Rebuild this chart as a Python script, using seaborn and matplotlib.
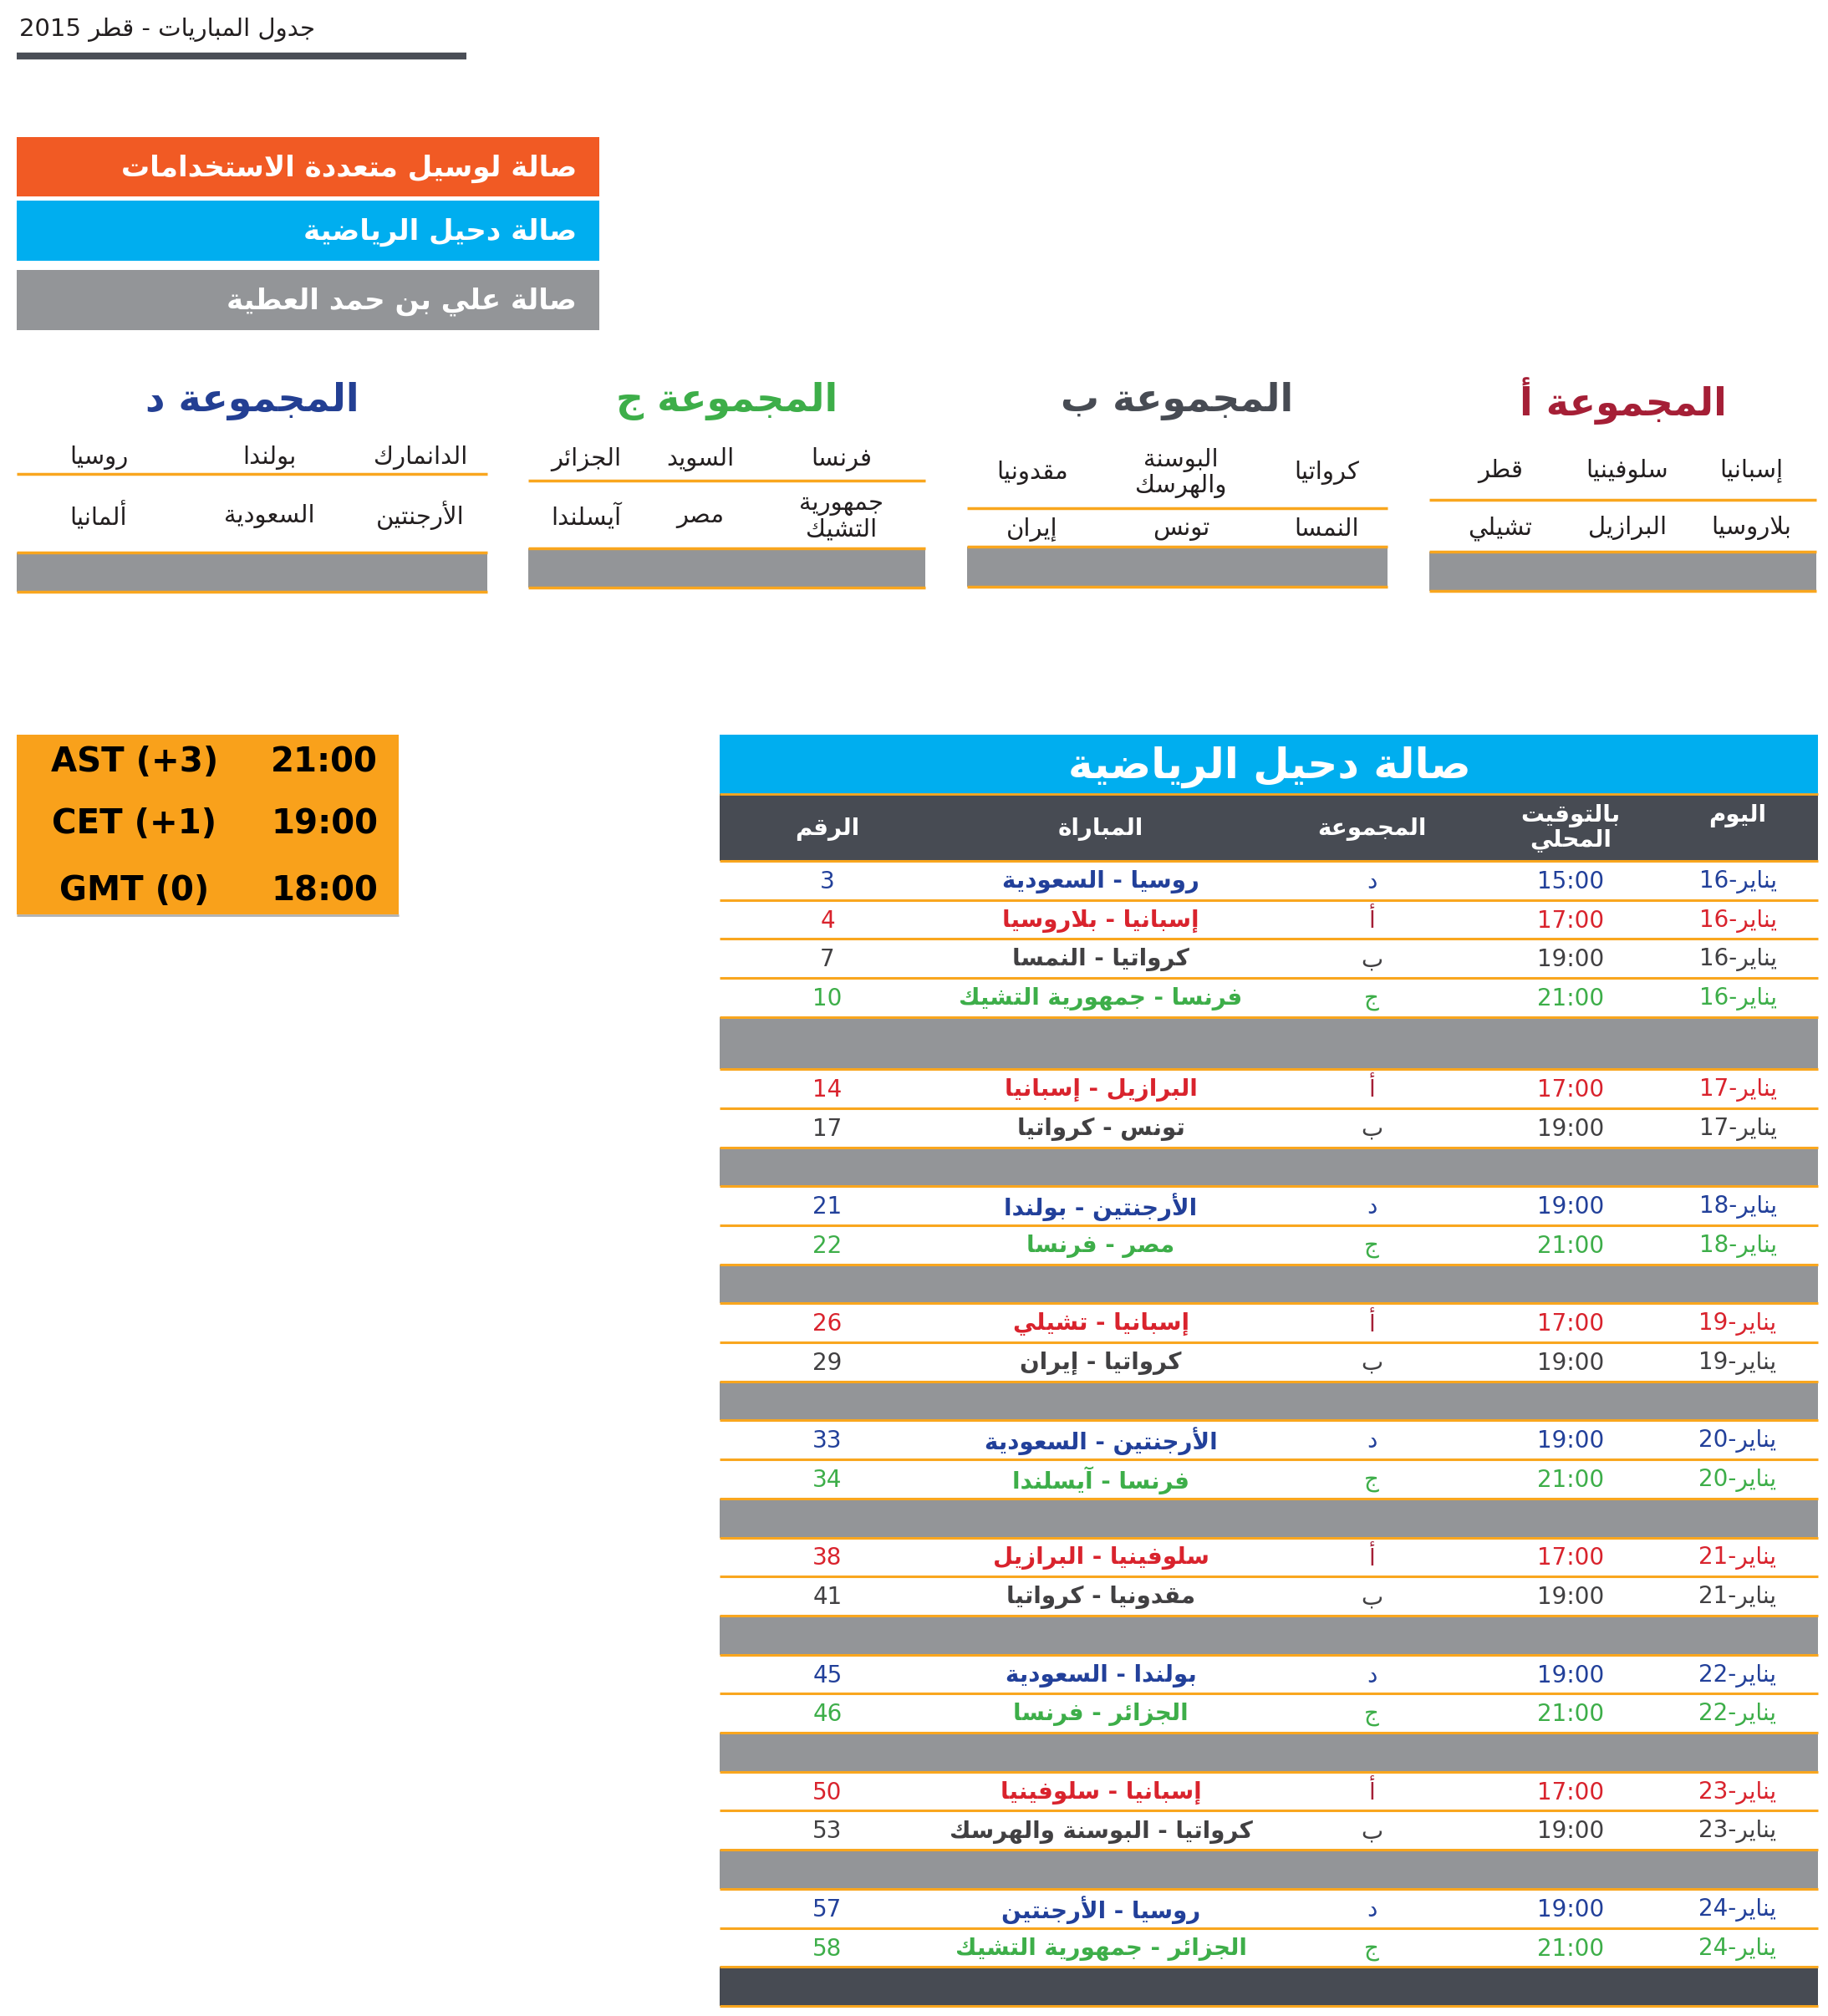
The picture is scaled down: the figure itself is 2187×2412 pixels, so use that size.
import re
import matplotlib
matplotlib.use("Agg")
import matplotlib.pyplot as plt
from matplotlib.colors import ListedColormap
from matplotlib.patches import Rectangle
import numpy as np
import seaborn as sns

# ---------------- data ----------------
page_title = "جدول المباريات - قطر 2015"

venues = ["صالة لوسيل متعددة الاستخدامات", "صالة دحيل الرياضية", "صالة علي بن حمد العطية"]
venue_colors = ["#F15A24", "#00AEEF", "#939598"]

group_letters = ["أ", "ب", "ج", "د"]
group_title_colors = ["#A51F36", "#474B53", "#3DAE49", "#233F93"]
group_row1 = [["إسبانيا", "سلوفينيا", "قطر"],
              ["كرواتيا", "البوسنة\nوالهرسك", "مقدونيا"],
              ["فرنسا", "السويد", "الجزائر"],
              ["الدانمارك", "بولندا", "روسيا"]]
group_row2 = [["بلاروسيا", "البرازيل", "تشيلي"],
              ["النمسا", "تونس", "إيران"],
              ["جمهورية\nالتشيك", "مصر", "آيسلندا"],
              ["الأرجنتين", "السعودية", "ألمانيا"]]

tz_names = ["AST (+3)", "CET (+1)", "GMT (0)"]
tz_times = ["21:00", "19:00", "18:00"]

hall_title = "صالة دحيل الرياضية"
col_headers = ["اليوم", "بالتوقيت\nالمحلي", "المجموعة", "المباراة", "الرقم"]
month = "يناير"
days = [16, 16, 16, 16, 17, 17, 18, 18, 19, 19, 20, 20, 21, 21, 22, 22, 23, 23, 24, 24]
times = ["15:00", "17:00", "19:00", "21:00", "17:00", "19:00", "19:00", "21:00",
         "17:00", "19:00", "19:00", "21:00", "17:00", "19:00", "19:00", "21:00",
         "17:00", "19:00", "19:00", "21:00"]
groups = ["د", "أ", "ب", "ج", "أ", "ب", "د", "ج", "أ", "ب",
          "د", "ج", "أ", "ب", "د", "ج", "أ", "ب", "د", "ج"]
matches = ["روسيا - السعودية", "إسبانيا - بلاروسيا", "كرواتيا - النمسا",
           "فرنسا - جمهورية التشيك", "البرازيل - إسبانيا", "تونس - كرواتيا",
           "الأرجنتين - بولندا", "مصر - فرنسا", "إسبانيا - تشيلي", "كرواتيا - إيران",
           "الأرجنتين - السعودية", "فرنسا - آيسلندا", "سلوفينيا - البرازيل",
           "مقدونيا - كرواتيا", "بولندا - السعودية", "الجزائر - فرنسا",
           "إسبانيا - سلوفينيا", "كرواتيا - البوسنة والهرسك", "روسيا - الأرجنتين",
           "الجزائر - جمهورية التشيك"]
numbers = [3, 4, 7, 10, 14, 17, 21, 22, 26, 29, 33, 34, 38, 41, 45, 46, 50, 53, 57, 58]

row_colors = {"أ": "#D9232D", "ب": "#414042", "ج": "#3DAE49", "د": "#22409A"}
letter_colors = {"أ": "#A51F36", "ب": "#414042", "ج": "#3DAE49", "د": "#22409A"}

# ---------------- arabic shaping (no reshaper available) ----------------
_right = {'آ': 0xFE81, 'أ': 0xFE83, 'ؤ': 0xFE85, 'إ': 0xFE87, 'ا': 0xFE8D, 'ة': 0xFE93,
          'د': 0xFEA9, 'ذ': 0xFEAB, 'ر': 0xFEAD, 'ز': 0xFEAF, 'و': 0xFEED, 'ى': 0xFEEF}
_dual = {'ئ': 0xFE89, 'ب': 0xFE8F, 'ت': 0xFE95, 'ث': 0xFE99, 'ج': 0xFE9D, 'ح': 0xFEA1,
         'خ': 0xFEA5, 'س': 0xFEB1, 'ش': 0xFEB5, 'ص': 0xFEB9, 'ض': 0xFEBD, 'ط': 0xFEC1,
         'ظ': 0xFEC5, 'ع': 0xFEC9, 'غ': 0xFECD, 'ف': 0xFED1, 'ق': 0xFED5, 'ك': 0xFED9,
         'ل': 0xFEDD, 'م': 0xFEE1, 'ن': 0xFEE5, 'ه': 0xFEE9, 'ي': 0xFEF1}
_lamalef = {'آ': 0xFEF5, 'أ': 0xFEF7, 'إ': 0xFEF9, 'ا': 0xFEFB}


def shape(s):
    out = []
    i = 0
    while i < len(s):
        c = s[i]
        pj = i > 0 and s[i - 1] in _dual
        nxt = s[i + 1] if i + 1 < len(s) else ''
        if c == 'ل' and nxt in _lamalef:
            out.append(chr(_lamalef[nxt] + (1 if pj else 0)))
            i += 2
            continue
        if c in _dual:
            nj = nxt in _dual or nxt in _right
            off = 3 if (pj and nj) else 1 if pj else 2 if nj else 0
            out.append(chr(_dual[c] + off))
        elif c in _right:
            out.append(chr(_right[c] + (1 if pj else 0)))
        elif c == 'ء':
            out.append(chr(0xFE80))
        else:
            out.append(c)
        i += 1
    return "".join(out)


def ar(text):
    lines = []
    for line in text.split("\n"):
        vis = shape(line)[::-1]
        vis = re.sub(r"[0-9A-Za-z:]+", lambda m: m.group(0)[::-1], vis)
        lines.append(vis)
    return "\n".join(lines)


# ---------------- figure ----------------
plt.rcParams['font.family'] = ['DejaVu Sans']
W, H = 2187, 2412
fig = plt.figure(figsize=(W / 100, H / 100), dpi=100)
bg = fig.add_axes([0, 0, 1, 1])
bg.set_xlim(0, W)
bg.set_ylim(H, 0)
bg.axis('off')

ORANGE = "#F9A61E"
GRAY = "#939598"
DARK = "#474B53"

# page title
bg.text(23, 36, ar(page_title), fontsize=21, color="#231F20", ha='left', va='center')
bg.hlines(67, 20, 558, color="#4A4E56", lw=6)

# venue legend
venue_y = [(164, 235), (240, 312), (323, 395)]
for name, col, (y0, y1) in zip(venues, venue_colors, venue_y):
    bg.add_patch(Rectangle((20, y0), 697, y1 - y0, color=col, lw=0))
    bg.text(690, (y0 + y1) / 2 + 2, ar(name), fontsize=24.5, fontweight='bold',
            color='white', ha='right', va='center')

# group boxes
g_x = [(1710, 2173), (1157, 1660), (632, 1107), (20, 583)]
g_cols = [[2095, 1947, 1795], [1587, 1413, 1235], [1007, 838, 701], [503, 322, 118]]
g_rows = [(563, 632), (566, 633), (549, 618), (548, 617)]
g_line = [598, 608, 575, 567]
g_gray = [(660, 707), (654, 702), (656, 703), (661, 708)]
for k, letter in enumerate(group_letters):
    x0, x1 = g_x[k]
    bg.text((x0 + x1) / 2, 480, ar("المجموعة " + letter), fontsize=33, fontweight='bold',
            color=group_title_colors[k], ha='center', va='center')
    for cx, t in zip(g_cols[k], group_row1[k]):
        bg.text(cx, g_rows[k][0], ar(t), fontsize=21, color="#231F20", ha='center',
                va='center', linespacing=1.1)
    for cx, t in zip(g_cols[k], group_row2[k]):
        bg.text(cx, g_rows[k][1], ar(t), fontsize=21, color="#231F20", ha='center',
                va='center', linespacing=1.1)
    bg.hlines(g_line[k], x0, x1, color=ORANGE, lw=2.5)
    gy0, gy1 = g_gray[k]
    bg.add_patch(Rectangle((x0, gy0), x1 - x0, gy1 - gy0, color=GRAY, lw=0))
    bg.hlines([gy0, gy1], x0, x1, color=ORANGE, lw=2.5)

# time zone box
bg.add_patch(Rectangle((20, 879), 457, 215, color="#F9A11B", lw=0))
bg.hlines(1095, 20, 477, color="#B0B0B0", lw=2)
for y, n, t in zip([912, 986, 1066], tz_names, tz_times):
    bg.text(161, y, n, fontsize=29, fontweight='bold', color='black', ha='center', va='center')
    bg.text(388, y, t, fontsize=29, fontweight='bold', color='black', ha='center', va='center')

# main table headers
TX0, TX1 = 861, 2175
bg.add_patch(Rectangle((TX0, 879), TX1 - TX0, 71, color="#00AEEF", lw=0))
bg.text(1519, 918, ar(hall_title), fontsize=36, fontweight='bold', color='white',
        ha='center', va='center')
bg.add_patch(Rectangle((TX0, 950), TX1 - TX0, 80, color=DARK, lw=0))
bg.hlines(950, TX0, TX1, color=ORANGE, lw=2)
col_x = [2079, 1879, 1641, 1317, 990]
head_y = [976, 991, 992, 992, 992]
for cx, hy, h in zip(col_x, head_y, col_headers):
    bg.text(cx, hy, ar(h), fontsize=20, fontweight='bold', color='white',
            ha='center', va='center', linespacing=1.0)

# table body as a heatmap of row kinds: 0 match, 1 gap, 2 footer
# each row is split into 3 sub-rows; the first gap is one sub-row taller
row_kind, row_match, row_units = [], [], []
for i in range(len(days)):
    if i > 0 and days[i] != days[i - 1]:
        row_kind.append(1)
        row_match.append(None)
        row_units.append(4 if 1 not in row_kind[:-1] else 3)
    row_kind.append(0)
    row_match.append(i)
    row_units.append(3)
row_kind.append(2)
row_match.append(None)
row_units.append(3)

sub_kind = np.repeat(row_kind, row_units).reshape(-1, 1)
edges = np.concatenate([[0], np.cumsum(row_units)])

TY0, TY1 = 1030, 2400
tab = fig.add_axes([TX0 / W, 1 - TY1 / H, (TX1 - TX0) / W, (TY1 - TY0) / H])
sns.heatmap(sub_kind, ax=tab,
            cmap=ListedColormap(["white", GRAY, DARK]), vmin=-0.5, vmax=2.5,
            cbar=False, xticklabels=False, yticklabels=False)
tab.axis('off')
tab.hlines(edges, 0, 1, colors=ORANGE, lw=2.2, clip_on=False)

fx = [(c - TX0) / (TX1 - TX0) for c in col_x]
for r, m in enumerate(row_match):
    if m is None:
        continue
    col = row_colors[groups[m]]
    y = (edges[r] + edges[r + 1]) / 2 + 0.1
    tab.text(fx[0], y, f"{days[m]}-" + ar(month), fontsize=20, color=col,
             ha='center', va='center')
    tab.text(fx[1], y, times[m], fontsize=20, color=col, ha='center', va='center')
    tab.text(fx[2], y, ar(groups[m]), fontsize=20, color=letter_colors[groups[m]],
             ha='center', va='center')
    tab.text(fx[3], y, ar(matches[m]), fontsize=20, fontweight='bold', color=col,
             ha='center', va='center')
    tab.text(fx[4], y, str(numbers[m]), fontsize=20, color=col, ha='center', va='center')

fig.savefig("out.png", dpi=100)
